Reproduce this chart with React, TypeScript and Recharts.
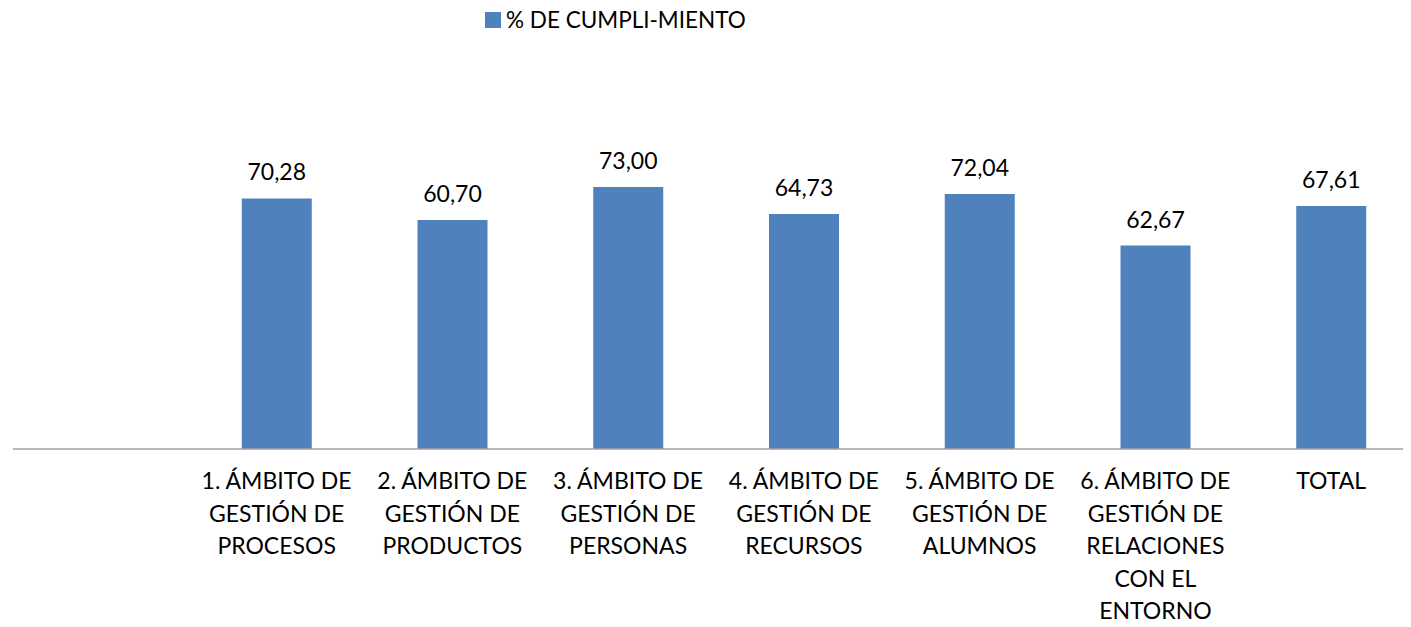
import { BarChart, Bar, XAxis, YAxis, Legend, LabelList } from "recharts";

// categories shown under the axis (first slot is an empty category in the source chart)
const categories = [
  "",
  "1. ÁMBITO DE GESTIÓN DE PROCESOS",
  "2. ÁMBITO DE GESTIÓN DE PRODUCTOS",
  "3. ÁMBITO DE GESTIÓN DE PERSONAS",
  "4. ÁMBITO DE GESTIÓN DE RECURSOS",
  "5. ÁMBITO DE GESTIÓN DE ALUMNOS",
  "6. ÁMBITO DE GESTIÓN DE RELACIONES CON EL ENTORNO",
  "TOTAL",
];

// bar heights as drawn in the picture
const cumplimiento = [null, 69.6, 63.6, 72.8, 65.3, 70.8, 56.5, 67.5];

// printed value labels
const valueLabels = ["", "70,28", "60,70", "73,00", "64,73", "72,04", "62,67", "67,61"];

const seriesName = "% DE CUMPLI-MIENTO";

const data = categories.map((name, i) => ({
  name,
  value: cumplimiento[i],
  label: valueLabels[i],
}));

const FONT = "Lato, 'Open Sans', sans-serif";
const BLUE = "#4F81BD";

// greedy word wrap, ~12 characters per line
const wrap = (s: string, max = 12) => {
  const lines: string[] = [];
  let cur = "";
  s.split(" ").forEach((w) => {
    if (!cur) cur = w;
    else if ((cur + " " + w).length <= max) cur += " " + w;
    else {
      lines.push(cur);
      cur = w;
    }
  });
  if (cur) lines.push(cur);
  return lines;
};

const CategoryTick = (props: any) => {
  const { x, y, payload } = props;
  const lines = wrap(String(payload.value || ""));
  return (
    <text x={x} y={y} textAnchor="middle" fill="#000" fontSize={23} fontFamily={FONT}>
      {lines.map((l, i) => (
        <tspan key={i} x={x} y={y + 40 + i * 32.5}>
          {l}
        </tspan>
      ))}
    </text>
  );
};

const ValueLabel = (props: any) => {
  const { x, y, width, value } = props;
  if (!value) return null;
  return (
    <text x={x + width / 2} y={y - 18} textAnchor="middle" fill="#000" fontSize={23} fontFamily={FONT}>
      {value}
    </text>
  );
};

const LegendBox = () => (
  <div style={{ display: "flex", alignItems: "center", fontFamily: FONT, fontSize: 22.5, color: "#000" }}>
    <span style={{ width: 16, height: 16, background: BLUE, marginRight: 5, display: "inline-block" }} />
    <span>{seriesName}</span>
  </div>
);

export default function App() {
  return (
    <div style={{ margin: -8, width: 1411, height: 627, overflow: "hidden", position: "relative", background: "#fff" }}>
      <BarChart
        width={1419}
        height={627}
        data={data}
        margin={{ top: 161, right: 0, bottom: 0, left: 13 }}
        barSize={70}
      >
        <XAxis
          dataKey="name"
          height={178}
          interval={0}
          tickLine={false}
          tickSize={0}
          tickMargin={0}
          axisLine={{ stroke: "#A0A0A0", strokeWidth: 1.5 }}
          tick={<CategoryTick />}
        />
        <YAxis hide domain={[0, 80]} />
        <Legend
          verticalAlign="middle"
          align="center"
          layout="horizontal"
          content={<LegendBox />}
          wrapperStyle={{ position: "absolute", top: 6, left: 485, width: "auto" }}
        />
        <Bar dataKey="value" name={seriesName} fill={BLUE} isAnimationActive={false}>
          <LabelList dataKey="label" content={<ValueLabel />} />
        </Bar>
      </BarChart>
    </div>
  );
}
